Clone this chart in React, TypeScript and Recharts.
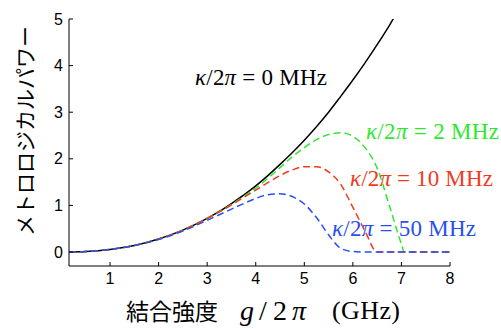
import React from 'react';
import { LineChart, Line, XAxis, YAxis } from 'recharts';

// coupling strength g/2π (GHz)
const G = [0.155, 0.5, 1, 1.5, 2, 2.5, 3, 3.25, 3.5, 3.75, 4, 4.25, 4.5, 4.75, 5, 5.25, 5.5, 5.75, 6, 6.25, 6.5, 6.75, 7, 7.06, 7.25, 7.5, 8];

// metrological power for each κ/2π
const K0 = [0, 0.01, 0.055, 0.14, 0.28, 0.47, 0.72, 0.87, 1.04, 1.22, 1.42, 1.64, 1.88, 2.13, 2.4, 2.69, 3.0, 3.34, 3.69, 4.06, 4.45, 4.86, 5.3, 5.4, null, null, null];
const K2 = [0, 0.01, 0.055, 0.14, 0.28, 0.47, 0.72, 0.86, 1.02, 1.19, 1.37, 1.58, 1.81, 2.04, 2.24, 2.41, 2.52, 2.56, 2.48, 2.24, 1.8, 1.0, 0.17, 0, 0, 0, 0];
const K10 = [0, 0.01, 0.055, 0.14, 0.28, 0.47, 0.72, 0.86, 1.01, 1.17, 1.33, 1.49, 1.64, 1.76, 1.83, 1.83, 1.72, 1.45, 0.96, 0.45, 0, 0, 0, 0, 0, 0, 0];
const K50 = [0, 0.01, 0.055, 0.14, 0.27, 0.45, 0.68, 0.8, 0.92, 1.04, 1.15, 1.23, 1.25, 1.19, 1.03, 0.74, 0.37, 0.08, 0.01, 0, 0, 0, 0, 0, 0, 0, 0];

const X_TICKS = [1, 2, 3, 4, 5, 6, 7, 8];
const Y_TICKS = [0, 1, 2, 3, 4, 5];

const data = G.map((g, i) => ({ g, k0: K0[i], k2: K2[i], k10: K10[i], k50: K50[i] }));

const GREEN = '#2ee82e';
const RED = '#f03a1e';
const BLUE = '#2850f0';

const tickFont = { fill: '#000', fontSize: 16, fontFamily: 'Liberation Sans, Arial, sans-serif' };
const serif = '"Liberation Serif", "Times New Roman", serif';
const cjk = '"Noto Sans CJK JP", sans-serif';

const Kappa = ({ x, y, value, color, width }: { x: number; y: number; value: string; color: string; width: number }) => (
  <text x={x} y={y} fill={color} fontFamily={serif} fontSize={23} dominantBaseline="central" textLength={width} lengthAdjust="spacing">
    <tspan fontStyle="italic">κ</tspan>/2<tspan fontStyle="italic">π</tspan> = {value} MHz
  </text>
);

export default function App() {
  return (
    <div style={{ position: 'relative', width: 501, height: 329, background: '#fff' }}>
      <style>{'body{margin:0}'}</style>
      <LineChart width={501} height={329} data={data} margin={{ top: 19, right: 51, bottom: 33, left: 29 }}>
        <XAxis
          dataKey="g"
          type="number"
          domain={[0.155, 8]}
          ticks={X_TICKS}
          allowDataOverflow
          stroke="#000"
          tickSize={-4}
          tickMargin={11}
          height={30}
          tick={tickFont}
        />
        <XAxis
          xAxisId="top"
          orientation="top"
          dataKey="g"
          type="number"
          domain={[0.155, 8]}
          ticks={X_TICKS}
          allowDataOverflow
          stroke="#000"
          tickSize={-4}
          tick={false}
          height={0}
        />
        <YAxis
          domain={[-0.3, 5]}
          ticks={Y_TICKS}
          allowDataOverflow
          stroke="#000"
          tickSize={-4}
          tickMargin={10}
          width={40}
          tick={tickFont}
        />
        <YAxis
          yAxisId="right"
          orientation="right"
          domain={[-0.3, 5]}
          ticks={Y_TICKS}
          allowDataOverflow
          stroke="#000"
          tickSize={-4}
          tick={false}
          width={0}
        />
        <Line type="monotone" dataKey="k0" stroke="#000" strokeWidth={1.5} dot={false} isAnimationActive={false} />
        <Line type="monotone" dataKey="k2" stroke={GREEN} strokeWidth={1.5} strokeDasharray="7 4" dot={false} isAnimationActive={false} />
        <Line type="monotone" dataKey="k10" stroke={RED} strokeWidth={1.5} strokeDasharray="7 4" dot={false} isAnimationActive={false} />
        <Line type="monotone" dataKey="k50" stroke={BLUE} strokeWidth={1.5} strokeDasharray="7 4" dot={false} isAnimationActive={false} />
      </LineChart>
      <svg width={501} height={329} style={{ position: 'absolute', left: 0, top: 0, pointerEvents: 'none' }}>
        <Kappa x={195} y={77} value="0" color="#000" width={132} />
        <Kappa x={366} y={131} value="2" color={GREEN} width={133} />
        <Kappa x={350} y={178} value="10" color={RED} width={143} />
        <Kappa x={332} y={228} value="50" color={BLUE} width={144} />
        <text x={24} y={131} transform="rotate(-90 24 131)" textAnchor="middle" dominantBaseline="central" fontFamily={cjk} fontSize={21} fill="#000">
          メトロロジカルパワー
        </text>
        <text x={126} y={310} dominantBaseline="central" fontFamily={cjk} fontSize={23} fill="#000">
          結合強度
        </text>
        <text y={310} dominantBaseline="central" fontFamily={serif} fontSize={28} fill="#000">
          <tspan x={240} fontStyle="italic">g</tspan>
          <tspan x={259}>/</tspan>
          <tspan x={273}>2</tspan>
          <tspan x={292} fontStyle="italic">π</tspan>
        </text>
        <text x={332} y={310} dominantBaseline="central" fontFamily={serif} fontSize={26} fill="#000" textLength={68} lengthAdjust="spacing">
          (GHz)
        </text>
      </svg>
    </div>
  );
}
